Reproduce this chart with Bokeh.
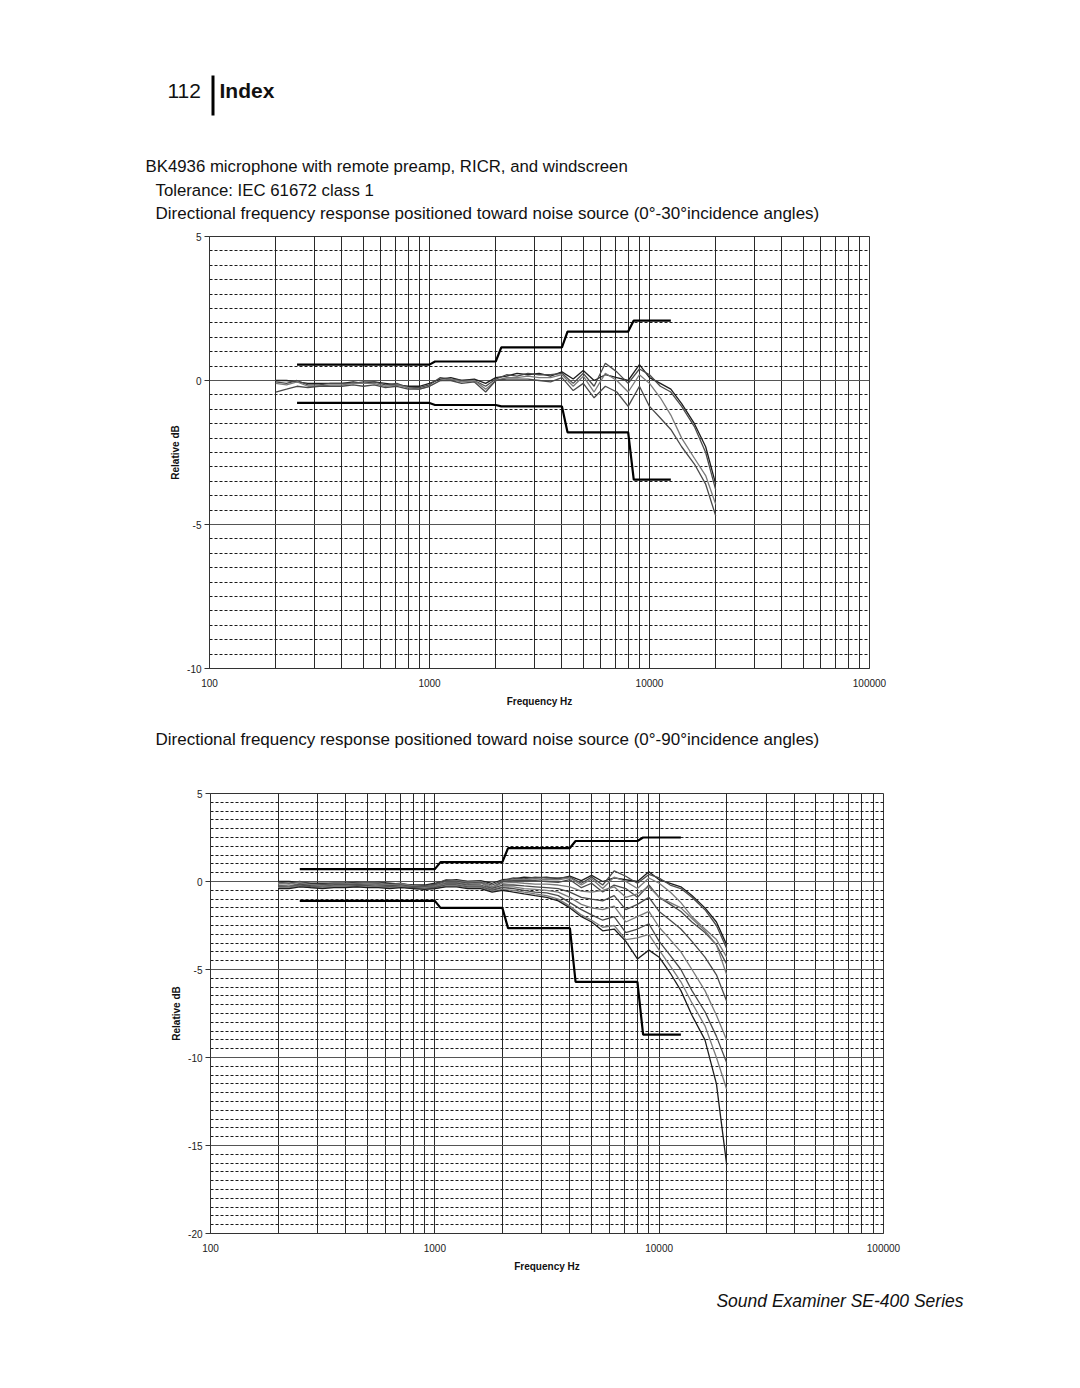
from bokeh.plotting import figure
from bokeh.models import Range1d, Label, FixedTicker, BoxAnnotation
from bokeh.embed import file_html
from bokeh.resources import INLINE

# ---------------- data ----------------
freq = [200, 224, 250, 280, 315, 355, 400, 450, 500, 560, 630, 710, 800, 900,
        1000, 1120, 1250, 1400, 1600, 1800, 2000, 2240, 2500, 2800, 3150, 3550,
        4000, 4500, 5000, 5600, 6300, 7100, 8000, 9000, 10000, 11200, 12500,
        14000, 16000, 18000, 20000]

deg0 = [0.0, 0.0, -0.05, -0.1, -0.1, -0.1, -0.1, -0.05, -0.1, -0.05, -0.1, -0.15, -0.2, -0.2,
        -0.1, 0.05, 0.1, 0.0, 0.05, -0.1, 0.1, 0.15, 0.25, 0.2, 0.25, 0.15,
        0.3, 0.05, 0.35, 0.0, 0.2, 0.1, 0.0, 0.55, 0.1, -0.1, -0.3, -0.8, -1.5, -2.3, -3.6]
deg10 = [-0.05, -0.1, 0.0, -0.15, -0.15, -0.1, -0.1, -0.1, -0.05, -0.05, -0.15, -0.1, -0.25, -0.25,
         -0.15, 0.1, 0.05, 0.0, 0.0, -0.2, 0.05, 0.2, 0.15, 0.25, 0.2, 0.2,
         0.25, -0.1, 0.25, -0.2, 0.6, 0.3, -0.1, 0.4, 0.2, -0.2, -0.4, -0.9, -1.6, -2.5, -3.8]
deg20 = [-0.1, -0.15, -0.05, -0.2, -0.2, -0.15, -0.15, -0.1, -0.1, -0.1, -0.2, -0.15, -0.25, -0.3,
         -0.2, 0.0, 0.05, -0.05, 0.0, -0.3, 0.0, 0.1, 0.1, 0.15, 0.1, 0.1,
         0.2, -0.2, 0.15, -0.4, 0.25, 0.0, -0.4, 0.2, -0.1, -0.6, -1.2, -2.0, -2.7, -3.3, -4.3]
deg30 = [-0.4, -0.3, -0.2, -0.25, -0.2, -0.2, -0.2, -0.15, -0.2, -0.15, -0.25, -0.2, -0.3, -0.3,
         -0.2, 0.0, 0.0, -0.1, -0.05, -0.4, 0.0, 0.05, 0.05, 0.05, 0.0, -0.05,
         0.1, -0.35, -0.1, -0.6, -0.2, -0.4, -0.9, -0.2, -0.9, -1.3, -1.7, -2.3, -2.9, -3.6, -4.7]
deg40 = [-0.2, -0.25, -0.1, -0.2, -0.25, -0.2, -0.15, -0.2, -0.15, -0.2, -0.2, -0.15, -0.25, -0.3,
         -0.25, -0.05, -0.05, -0.15, -0.1, -0.35, -0.1, -0.05, -0.1, -0.15, -0.15, -0.2,
         -0.3, -0.55, -0.6, -0.5, -0.3, -0.9, -0.7, -0.3, -0.9, -1.2, -1.5, -2.1, -2.8, -3.6, -5.3]
deg50 = [-0.25, -0.3, -0.15, -0.25, -0.3, -0.2, -0.2, -0.2, -0.2, -0.25, -0.25, -0.2, -0.3, -0.3,
         -0.3, -0.1, -0.1, -0.2, -0.2, -0.4, -0.2, -0.2, -0.25, -0.3, -0.35, -0.4,
         -0.6, -0.9, -1.0, -1.1, -0.8, -1.6, -1.3, -0.9, -1.7, -2.2, -2.7, -3.4, -4.3, -5.3, -6.8]
deg60 = [-0.3, -0.3, -0.2, -0.3, -0.3, -0.25, -0.25, -0.25, -0.2, -0.25, -0.3, -0.25, -0.35, -0.35,
         -0.3, -0.15, -0.15, -0.25, -0.25, -0.45, -0.3, -0.3, -0.4, -0.45, -0.5, -0.6,
         -0.9, -1.3, -1.5, -1.6, -1.4, -2.3, -2.0, -1.7, -2.6, -3.3, -4.0, -5.0, -6.2, -7.6, -9.0]
deg70 = [-0.3, -0.35, -0.2, -0.3, -0.35, -0.3, -0.3, -0.25, -0.25, -0.3, -0.3, -0.3, -0.35, -0.4,
         -0.35, -0.2, -0.2, -0.3, -0.3, -0.5, -0.35, -0.4, -0.5, -0.6, -0.65, -0.8,
         -1.2, -1.6, -1.9, -2.2, -2.0, -2.9, -2.7, -2.4, -3.4, -4.2, -5.0, -6.2, -7.4, -8.8, -10.3]
deg80 = [-0.35, -0.35, -0.25, -0.35, -0.35, -0.3, -0.3, -0.3, -0.3, -0.3, -0.35, -0.3, -0.4, -0.4,
         -0.4, -0.25, -0.25, -0.35, -0.35, -0.55, -0.45, -0.5, -0.6, -0.7, -0.8, -1.0,
         -1.4, -1.9, -2.2, -2.6, -2.5, -3.3, -3.2, -3.0, -3.9, -4.8, -5.7, -6.9, -8.2, -10.0, -11.8]
deg90 = [-0.4, -0.4, -0.3, -0.35, -0.4, -0.35, -0.35, -0.3, -0.35, -0.35, -0.4, -0.35, -0.4, -0.45,
         -0.4, -0.3, -0.3, -0.4, -0.4, -0.6, -0.5, -0.6, -0.7, -0.8, -0.9, -1.1,
         -1.5, -2.0, -2.3, -2.8, -2.7, -3.4, -4.4, -3.9, -4.3, -5.2, -6.2, -7.6, -9.0, -11.5, -16.1]

tol_freq = [250, 1000, 1060, 2000, 2120, 4000, 4240, 8000, 8480, 12500]
tol30_upper = [0.55, 0.55, 0.66, 0.66, 1.15, 1.15, 1.7, 1.7, 2.08, 2.08]
tol30_lower = [-0.78, -0.78, -0.85, -0.85, -0.9, -0.9, -1.8, -1.8, -3.44, -3.44]
tol90_upper = [0.7, 0.7, 1.1, 1.1, 1.9, 1.9, 2.3, 2.3, 2.5, 2.5]
tol90_lower = [-1.1, -1.1, -1.5, -1.5, -2.65, -2.65, -5.7, -5.7, -8.7, -8.7]

x_ticks = [100, 1000, 10000, 100000]
x_tick_labels = ["100", "1000", "10000", "100000"]
x_grid = [100, 200, 300, 400, 500, 600, 700, 800, 900,
          1000, 2000, 3000, 4000, 5000, 6000, 7000, 8000, 9000,
          10000, 20000, 30000, 40000, 50000, 60000, 70000, 80000, 90000, 100000]
y_ticks_top = [-10, -5, 0, 5]
y_ticks_bottom = [-20, -15, -10, -5, 0, 5]

FONT = "Liberation Sans"
W = 1072


def text_fig(h):
    p = figure(width=W, height=h, x_range=Range1d(0, W), y_range=Range1d(h, 0),
               output_backend="svg", toolbar_location=None,
               x_axis_location=None, y_axis_location=None, min_border=0)
    p.grid.visible = False
    p.outline_line_color = None
    p.background_fill_color = "white"
    p.border_fill_color = "white"
    return p


def add_text(p, x, y, text, size="16px", style="normal", align="left"):
    p.add_layout(Label(x=x, y=y, text=text, text_font=FONT, text_font_size=size,
                       text_font_style=style, text_align=align, text_baseline="middle",
                       text_color="#111111"))


def chart(h, ymin, ymax, yticks, bl, br, bt, bb, curves, dark, up, lo):
    p = figure(width=W, height=h, x_axis_type="log",
               x_range=Range1d(100, 100000), y_range=Range1d(ymin, ymax),
               output_backend="svg", toolbar_location=None,
               min_border_left=bl, min_border_right=br, min_border_top=bt, min_border_bottom=bb)
    p.background_fill_color = "white"
    p.border_fill_color = "white"
    p.outline_line_color = "#333333"
    p.outline_line_width = 1

    p.xaxis.ticker = FixedTicker(ticks=x_ticks)
    p.xaxis.major_label_overrides = {t: s for t, s in zip(x_ticks, x_tick_labels)}
    p.xaxis.major_tick_line_color = None
    p.xaxis.minor_tick_line_color = None
    p.xaxis.axis_line_color = "#333333"
    p.xaxis.major_label_standoff = 4
    p.xaxis.axis_label = "Frequency Hz"
    p.xaxis.axis_label_standoff = 6

    p.yaxis.ticker = FixedTicker(ticks=yticks)
    p.yaxis.major_label_overrides = {t: str(t) for t in yticks}
    p.yaxis.minor_tick_line_color = None
    p.yaxis.major_tick_out = 5
    p.yaxis.major_tick_in = 0
    p.yaxis.major_tick_line_color = "#333333"
    p.yaxis.axis_line_color = "#333333"
    p.yaxis.major_label_standoff = 3
    p.yaxis.axis_label = "Relative dB"
    p.yaxis.axis_label_standoff = 3

    for ax in (p.xaxis[0], p.yaxis[0]):
        ax.major_label_text_font = FONT
        ax.major_label_text_font_size = "10px"
        ax.major_label_text_color = "#222222"
        ax.axis_label_text_font = FONT
        ax.axis_label_text_font_size = "10px"
        ax.axis_label_text_font_style = "bold"
        ax.axis_label_text_color = "#111111"

    p.xgrid.ticker = FixedTicker(ticks=x_grid)
    p.xgrid.grid_line_color = "#2a2a2a"
    p.xgrid.grid_line_width = 1

    minor = [v / 2 for v in range(int(ymin * 2), int(ymax * 2) + 1) if v % 10 != 0]
    p.ygrid.ticker = FixedTicker(ticks=yticks, minor_ticks=minor)
    p.ygrid.grid_line_color = "#555555"
    p.ygrid.grid_line_width = 1
    p.ygrid.minor_grid_line_color = "#1a1a1a"
    p.ygrid.minor_grid_line_dash = "3 2"
    p.ygrid.minor_grid_line_width = 1

    for i, c in enumerate(curves):
        col = "#1e1e1e" if i in dark else ("#4a4a4a" if i % 2 else "#7a7a7a")
        p.line(freq, c, line_color=col, line_width=1.3)
    p.line(tol_freq, up, line_color="black", line_width=2.2)
    p.line(tol_freq, lo, line_color="black", line_width=2.2)
    return p


# header (page y 0..228)
hdr = text_fig(228)
add_text(hdr, 167, 90, "112", size="21px")
hdr.add_layout(BoxAnnotation(left=211, right=214, top=75, bottom=115,
                             fill_color="black", fill_alpha=1.0, line_color=None))
add_text(hdr, 219, 90, "Index", size="21px", style="bold")
add_text(hdr, 145, 166, "BK4936 microphone with remote preamp, RICR, and windscreen", size="16.8px")
add_text(hdr, 155, 190, "Tolerance:  IEC 61672 class 1", size="16.8px")
add_text(hdr, 155, 213, "Directional frequency response positioned toward noise source (0°-30°incidence angles)",
         size="17px")

# chart 1 (page y 228..718), frame 209..869 x 236..668
c1 = chart(490, -10, 5, y_ticks_top, 209, W - 869, 8, 50,
           [deg0, deg10, deg20, deg30], {0}, tol30_upper, tol30_lower)

# middle caption (page y 718..785)
mid = text_fig(67)
add_text(mid, 155, 21, "Directional frequency response positioned toward noise source (0°-90°incidence angles)",
         size="17px")

# chart 2 (page y 785..1285), frame 210..883 x 793..1233
c2 = chart(500, -20, 5, y_ticks_bottom, 210, W - 883, 8, 52,
           [deg0, deg10, deg20, deg30, deg40, deg50, deg60, deg70, deg80, deg90], {0, 9},
           tol90_upper, tol90_lower)

# footer (page y 1285..1380)
ftr = text_fig(95)
add_text(ftr, 963, 15, "Sound Examiner SE-400 Series", size="17.5px", style="italic", align="right")

open("out.html", "w").write(file_html([hdr, c1, mid, c2, ftr], INLINE))
